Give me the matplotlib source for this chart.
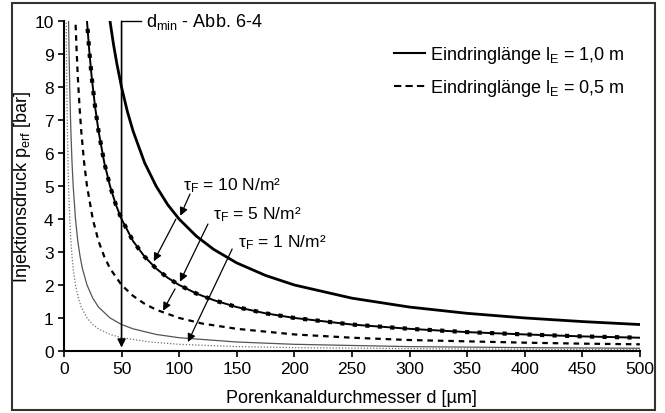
import numpy as np
import matplotlib
matplotlib.use("Agg")
import matplotlib.pyplot as plt
from matplotlib.lines import Line2D
from matplotlib.patches import Rectangle

plt.rcParams["font.family"] = ["Liberation Sans", "DejaVu Sans"]
plt.rcParams["mathtext.fontset"] = "custom"
plt.rcParams["mathtext.rm"] = "Liberation Sans"
plt.rcParams["mathtext.it"] = "Liberation Sans:italic"

# Werte (d in µm, p in bar)
# tau_F = 10 N/m², l_E = 1,0 m
d_10_10 = [38, 40, 43, 46, 50, 55, 60, 70, 80, 90, 100, 115, 130, 150, 175, 200, 250, 300, 350, 400, 450, 500]
p_10_10 = [10.53, 10.0, 9.30, 8.70, 8.0, 7.27, 6.67, 5.71, 5.0, 4.44, 4.0, 3.48, 3.08, 2.67, 2.29, 2.0, 1.6, 1.33, 1.14, 1.0, 0.89, 0.8]

# tau_F = 10 N/m², l_E = 0,5 m
d_10_05 = [19, 20, 22, 24, 27, 30, 35, 40, 45, 50, 60, 70, 80, 90, 100, 115, 130, 150, 175, 200, 250, 300, 350, 400, 450, 500]
p_10_05 = [10.53, 10.0, 9.09, 8.33, 7.41, 6.67, 5.71, 5.0, 4.44, 4.0, 3.33, 2.86, 2.5, 2.22, 2.0, 1.74, 1.54, 1.33, 1.14, 1.0, 0.8, 0.67, 0.57, 0.5, 0.44, 0.4]

# tau_F = 5 N/m², l_E = 1,0 m
d_5_10 = [19, 20, 22, 24, 27, 30, 35, 40, 45, 50, 60, 70, 80, 90, 100, 115, 130, 150, 175, 200, 250, 300, 350, 400, 450, 500]
p_5_10 = [10.53, 10.0, 9.09, 8.33, 7.41, 6.67, 5.71, 5.0, 4.44, 4.0, 3.33, 2.86, 2.5, 2.22, 2.0, 1.74, 1.54, 1.33, 1.14, 1.0, 0.8, 0.67, 0.57, 0.5, 0.44, 0.4]

# tau_F = 5 N/m², l_E = 0,5 m
d_5_05 = [9.5, 10, 11, 12, 13.5, 15, 17.5, 20, 25, 30, 35, 40, 50, 60, 70, 80, 100, 120, 150, 200, 250, 300, 350, 400, 450, 500]
p_5_05 = [10.53, 10.0, 9.09, 8.33, 7.41, 6.67, 5.71, 5.0, 4.0, 3.33, 2.86, 2.5, 2.0, 1.67, 1.43, 1.25, 1.0, 0.83, 0.67, 0.5, 0.4, 0.33, 0.29, 0.25, 0.22, 0.2]

# tau_F = 1 N/m², l_E = 1,0 m
d_1_10 = [3.8, 4, 4.5, 5, 5.5, 6, 7, 8, 10, 12, 14, 16, 20, 25, 30, 40, 50, 60, 80, 100, 150, 200, 300, 400, 500]
p_1_10 = [10.53, 10.0, 8.89, 8.0, 7.27, 6.67, 5.71, 5.0, 4.0, 3.33, 2.86, 2.5, 2.0, 1.6, 1.33, 1.0, 0.8, 0.67, 0.5, 0.4, 0.27, 0.2, 0.13, 0.1, 0.08]

# tau_F = 1 N/m², l_E = 0,5 m
d_1_05 = [1.9, 2, 2.25, 2.5, 2.75, 3, 3.5, 4, 5, 6, 7, 8, 10, 12.5, 15, 20, 25, 30, 40, 50, 75, 100, 150, 200, 300, 400, 500]
p_1_05 = [10.53, 10.0, 8.89, 8.0, 7.27, 6.67, 5.71, 5.0, 4.0, 3.33, 2.86, 2.5, 2.0, 1.6, 1.33, 1.0, 0.8, 0.67, 0.5, 0.4, 0.27, 0.2, 0.13, 0.1, 0.07, 0.05, 0.04]

x_ticks = list(range(0, 501, 50))
y_ticks = list(range(0, 11))

fig = plt.figure(figsize=(6.65, 4.14), dpi=100)
ax = fig.add_axes([0.0962, 0.150, 0.866, 0.796])

# Kurven
ax.plot(d_1_05, p_1_05, color="#707070", lw=0.9, linestyle=(0, (1, 1.5)))
ax.plot(d_1_10, p_1_10, color="#555555", lw=0.9)
ax.plot(d_5_05, p_5_05, color="black", lw=1.6, linestyle=(0, (2.5, 2.2)))
ax.plot(d_5_10, p_5_10, color="black", lw=1.4)
ax.plot(d_10_05, p_10_05, color="black", lw=3.0, linestyle=(0, (1.0, 2.0)))
ax.plot(d_10_10, p_10_10, color="black", lw=2.0)

ax.set_xlim(0, 500)
ax.set_ylim(0, 10)
ax.set_xticks(x_ticks)
ax.set_yticks(y_ticks)
ax.tick_params(labelsize=12.5, length=4, width=1.2, direction="out")
for s in ["top", "right"]:
    ax.spines[s].set_visible(False)
for s in ["left", "bottom"]:
    ax.spines[s].set_linewidth(1.5)

ax.set_xlabel("Porenkanaldurchmesser d [µm]", fontsize=13, labelpad=9)
ax.set_ylabel("Injektionsdruck p$_\\mathrm{erf}$ [bar]", fontsize=13)
ax.yaxis.set_label_coords(-0.053, 0.5)

# d_min Markierung
arr = dict(arrowstyle="-|>", color="black", lw=0.9, mutation_scale=12, shrinkA=0, shrinkB=0)
ax.annotate("", xy=(50, 0.1), xytext=(50, 10), arrowprops=dict(arr, lw=1.2), annotation_clip=False)
ax.plot([50, 67], [10, 10], color="black", lw=1.0, clip_on=False)
ax.text(71, 10, "d$_\\mathrm{min}$ - Abb. 6-4", fontsize=13, va="center", ha="left")

# tau Beschriftungen
ax.text(103, 5.06, "τ$_\\mathrm{F}$ = 10 N/m²", fontsize=12.5, va="center", ha="left")
ax.text(129, 4.15, "τ$_\\mathrm{F}$ = 5 N/m²", fontsize=12.5, va="center", ha="left")
ax.text(151, 3.33, "τ$_\\mathrm{F}$ = 1 N/m²", fontsize=12.5, va="center", ha="left")

ax.annotate("", xy=(101, 4.1), xytext=(109.4, 4.76), arrowprops=arr)
ax.annotate("", xy=(78, 2.72), xytext=(97.2, 4.0), arrowprops=arr)
ax.annotate("", xy=(100.7, 2.1), xytext=(125, 3.85), arrowprops=arr)
ax.annotate("", xy=(86, 1.22), xytext=(96.4, 1.88), arrowprops=arr)
ax.annotate("", xy=(107.6, 0.27), xytext=(146, 3.09), arrowprops=arr)

# Legende
handles = [
    Line2D([], [], color="black", lw=1.5),
    Line2D([], [], color="black", lw=1.5, linestyle=(0, (3.5, 2))),
]
ax.legend(handles, ["Eindringlänge l$_\\mathrm{E}$ = 1,0 m", "Eindringlänge l$_\\mathrm{E}$ = 0,5 m"],
          loc="upper left", bbox_to_anchor=(0.545, 0.98), frameon=False, fontsize=13,
          handlelength=1.7, handletextpad=0.3, labelspacing=0.65)

# Rahmen um die Abbildung
fig.patches.append(Rectangle((12 / 665, 3 / 414), 643 / 665, 407 / 414, transform=fig.transFigure,
                             fill=False, edgecolor="#333333", lw=1.5))

fig.savefig("out.png", dpi=100)
